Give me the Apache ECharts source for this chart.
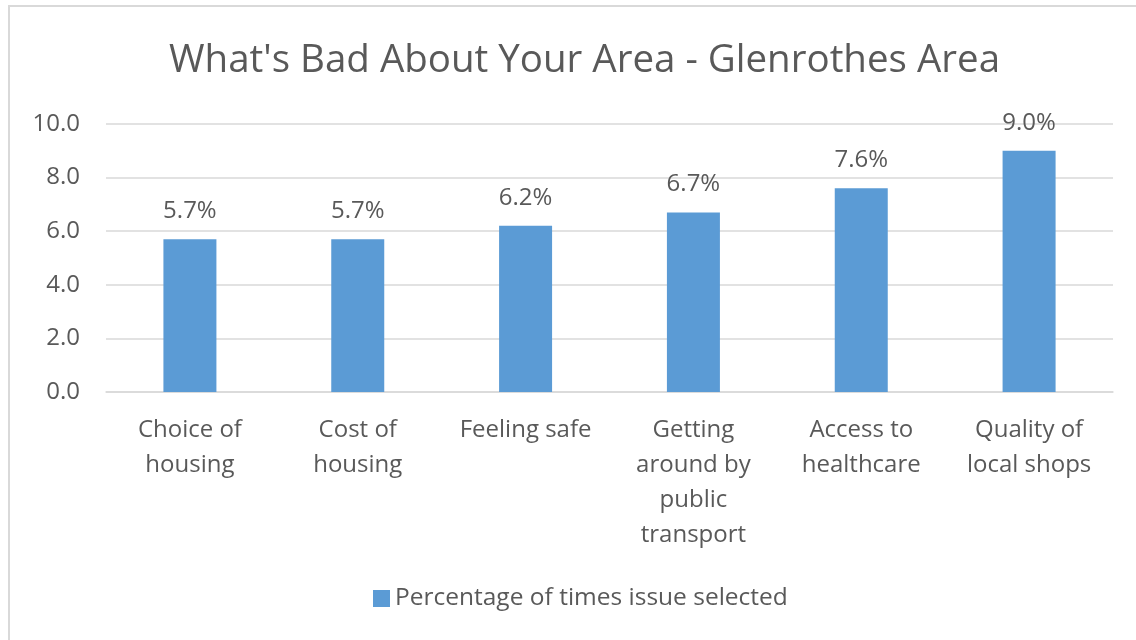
<!DOCTYPE html>
<html>
<head>
<meta charset="utf-8">
<script src="https://cdn.jsdelivr.net/npm/echarts@6/dist/echarts.min.js"></script>
<style>
  html, body { margin: 0; padding: 0; background: #fff; }
  #frame { position: absolute; left: 8px; top: 5px; width: 1128px; height: 635px;
    border-top: 2px solid #d9d9d9; border-left: 2px solid #d9d9d9; box-sizing: border-box; }
  #chart { position: absolute; left: 0; top: 0; width: 1136px; height: 640px; }
</style>
</head>
<body>
<div id="frame"></div>
<div id="chart"></div>
<script>
const categories = [
  'Choice of\nhousing',
  'Cost of\nhousing',
  'Feeling safe',
  'Getting\naround by\npublic\ntransport',
  'Access to\nhealthcare',
  'Quality of\nlocal shops'
]
const seriesName = 'Percentage of times issue selected'
const values = [5.7, 5.7, 6.2, 6.7, 7.6, 9.0]

const textColor = '#595959'
const font = 'Open Sans'

const chart = echarts.init(document.getElementById('chart'))
chart.setOption({
  backgroundColor: 'transparent',
  animation: false,
  title: {
    text: "What's Bad About Your Area - Glenrothes Area",
    left: 164,
    top: 37,
    textStyle: {
      color: textColor,
      fontFamily: font,
      fontSize: 38.5,
      fontWeight: 'normal'
    }
  },
  legend: {
    bottom: 24,
    left: 368,
    itemWidth: 17,
    itemHeight: 17,
    itemGap: 8,
    icon: 'rect',
    textStyle: {
      color: textColor,
      fontFamily: font,
      fontSize: 24.5
    },
    data: [seriesName]
  },
  grid: {
    left: 106,
    right: 23,
    top: 124,
    bottom: 248
  },
  xAxis: {
    type: 'category',
    data: categories,
    axisLine: { lineStyle: { color: '#d9d9d9', width: 1.5 } },
    axisTick: { show: false },
    axisLabel: {
      color: textColor,
      fontFamily: font,
      fontSize: 24,
      lineHeight: 35,
      margin: 21,
      interval: 0
    }
  },
  yAxis: {
    type: 'value',
    min: 0,
    max: 10,
    interval: 2,
    axisLine: { show: false },
    axisTick: { show: false },
    splitLine: { lineStyle: { color: '#d9d9d9', width: 1.5 } },
    axisLabel: {
      color: textColor,
      fontFamily: font,
      fontSize: 24,
      margin: 26,
      formatter: function(v) { return v.toFixed(1) }
    }
  },
  series: [{
    name: seriesName,
    type: 'bar',
    data: values,
    barWidth: 53,
    itemStyle: { color: '#5b9bd5' },
    label: {
      show: true,
      position: 'top',
      distance: 16,
      color: textColor,
      fontFamily: font,
      fontSize: 24,
      formatter: function(p) { return p.value.toFixed(1) + '%' }
    }
  }]
})
</script>
</body>
</html>
